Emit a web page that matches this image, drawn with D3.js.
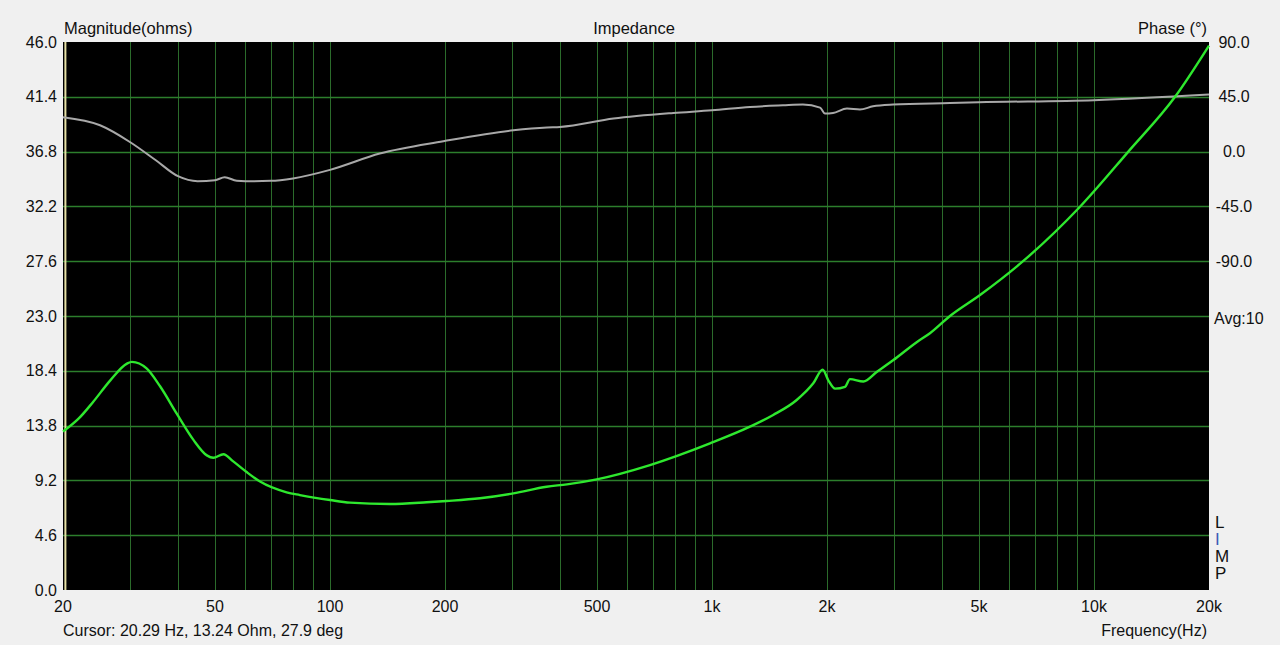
<!DOCTYPE html>
<html>
<head>
<meta charset="utf-8">
<script src="https://cdn.jsdelivr.net/npm/d3@7"></script>
<style>
  html, body { margin: 0; padding: 0; background: #f0f0f0; }
  svg { display: block; font-family: "Liberation Sans", Arial, sans-serif; }
</style>
</head>
<body>
<div id="chart"></div>
<script>
// Impedance sweep data
const magFreq = [20, 22, 24, 26.6, 29.4, 30.3, 33.1, 35.9, 39.7, 43.9, 47.6, 49.5, 52.6, 55.8, 60.5, 65.6, 77, 83.4, 100, 112.8, 143.6, 179, 202, 247, 302, 369, 417, 499, 688, 988, 1257, 1446, 1666, 1841, 1949, 2016, 2100, 2229, 2297, 2490, 2698, 2984, 3434, 3720, 4197, 5030, 6520, 9190, 12300, 16300, 20000];
const magOhm  = [13.3, 14.4, 15.8, 17.6, 19.0, 19.15, 18.6, 17.1, 14.8, 12.6, 11.3, 11.1, 11.4, 10.8, 9.9, 9.1, 8.2, 7.97, 7.55, 7.33, 7.22, 7.36, 7.47, 7.7, 8.11, 8.67, 8.87, 9.29, 10.49, 12.31, 13.71, 14.69, 15.95, 17.35, 18.5, 17.6, 16.9, 17.05, 17.7, 17.5, 18.3, 19.3, 20.8, 21.55, 23.0, 24.76, 27.6, 32.17, 36.8, 41.4, 45.7];

const phFreq = [20, 25, 30, 35, 40, 45, 50, 53, 57, 60, 70, 80, 100, 135, 198, 302, 370, 400, 552, 792, 1000, 1257, 1534, 1730, 1918, 1976, 2074, 2256, 2440, 2639, 2978, 4197, 5000, 10000, 20000];
const phDeg  = [28.2, 21.6, 7.7, -7.1, -20.2, -24.3, -23.5, -21, -24, -24.3, -24, -22, -15, -1.6, 8.5, 17.5, 19.8, 20.2, 27.1, 31.7, 33.9, 36.7, 38.0, 38.6, 36.1, 31.2, 31.7, 35.3, 34.5, 37.2, 38.6, 39.9, 40.5, 42.2, 46.8];

// Axis ticks
const magTicks = [0, 4.6, 9.2, 13.8, 18.4, 23.0, 27.6, 32.2, 36.8, 41.4, 46.0];
const phaseTicks = [90, 45, 0, -45, -90];
const freqLabels = [[20, "20"], [50, "50"], [100, "100"], [200, "200"], [500, "500"], [1000, "1k"], [2000, "2k"], [5000, "5k"], [10000, "10k"], [20000, "20k"]];
const freqGrid = [30, 40, 50, 60, 70, 80, 90, 100, 200, 300, 400, 500, 600, 700, 800, 900, 1000, 2000, 3000, 4000, 5000, 6000, 7000, 8000, 9000, 10000];

const W = 1280, H = 645;
const margin = { top: 42, right: 71, bottom: 55, left: 63 };
const width = W - margin.left - margin.right;
const height = H - margin.top - margin.bottom;

const svg = d3.select("#chart").append("svg")
    .attr("width", W)
    .attr("height", H);

svg.append("rect").attr("width", W).attr("height", H).attr("fill", "#f0f0f0");

const g = svg.append("g").attr("transform", `translate(${margin.left},${margin.top})`);

const x = d3.scaleLog().domain([20, 20000]).range([0, width]);
const yMag = d3.scaleLinear().domain([0, 46]).range([height, 0]);
const yPh = d3.scaleLinear().domain([-360, 90]).range([height, 0]);

g.append("rect").attr("width", width).attr("height", height).attr("fill", "#000");

// grid
g.append("g").selectAll("line")
    .data(freqGrid)
    .join("line")
    .attr("x1", d => Math.round(x(d)) + 0.5).attr("x2", d => Math.round(x(d)) + 0.5)
    .attr("y1", 0).attr("y2", height)
    .attr("stroke", "#2b6b2b").attr("stroke-width", 1);

g.append("g").selectAll("line")
    .data(magTicks.slice(1, -1))
    .join("line")
    .attr("x1", 0).attr("x2", width)
    .attr("y1", d => Math.round(yMag(d)) + 0.5).attr("y2", d => Math.round(yMag(d)) + 0.5)
    .attr("stroke", "#2c7e2c").attr("stroke-width", 1.6);

// cursor line at the left edge
g.append("line")
    .attr("x1", x(20.29)).attr("x2", x(20.29))
    .attr("y1", 0).attr("y2", height)
    .attr("stroke", "#e6e0a6").attr("stroke-width", 2);

// phase curve
const phaseData = phFreq.map((f, i) => [f, phDeg[i]]);
g.append("path")
    .datum(phaseData)
    .attr("fill", "none")
    .attr("stroke", "#a8a8a8")
    .attr("stroke-width", 2)
    .attr("d", d3.line().x(d => x(d[0])).y(d => yPh(d[1])).curve(d3.curveMonotoneX));

// magnitude curve
const magData = magFreq.map((f, i) => [f, magOhm[i]]);
g.append("path")
    .datum(magData)
    .attr("fill", "none")
    .attr("stroke", "#2ee82e")
    .attr("stroke-width", 2.4)
    .attr("d", d3.line().x(d => x(d[0])).y(d => yMag(d[1])).curve(d3.curveMonotoneX));

// left axis labels
g.append("g").selectAll("text")
    .data(magTicks)
    .join("text")
    .attr("x", -6)
    .attr("y", d => yMag(d))
    .attr("dy", "0.35em")
    .attr("text-anchor", "end")
    .attr("font-size", 16)
    .attr("fill", "#111")
    .text(d => d.toFixed(1));

// right axis labels
g.append("g").selectAll("text")
    .data(phaseTicks)
    .join("text")
    .attr("x", width + 25)
    .attr("y", d => yPh(d))
    .attr("dy", "0.35em")
    .attr("text-anchor", "middle")
    .attr("font-size", 16)
    .attr("fill", "#111")
    .text(d => d.toFixed(1));

g.append("text")
    .attr("x", width + 5)
    .attr("y", yMag(23.0))
    .attr("dy", "0.5em")
    .attr("font-size", 16)
    .attr("fill", "#111")
    .text("Avg:10");

// LIMP letters
const limp = [["L", "#111"], ["I", "#3b5bb5"], ["M", "#111"], ["P", "#111"]];
g.append("g").selectAll("text")
    .data(limp)
    .join("text")
    .attr("x", width + 6)
    .attr("y", (d, i) => 486 + i * 17)
    .attr("font-size", 17)
    .attr("fill", d => d[1])
    .text(d => d[0]);

// frequency labels
g.append("g").selectAll("text")
    .data(freqLabels)
    .join("text")
    .attr("x", d => x(d[0]))
    .attr("y", height + 22)
    .attr("text-anchor", "middle")
    .attr("font-size", 16)
    .attr("fill", "#111")
    .text(d => d[1]);

// titles
svg.append("text").attr("x", 64).attr("y", 34).attr("font-size", 16.5).attr("fill", "#111").text("Magnitude(ohms)");
svg.append("text").attr("x", 634).attr("y", 34).attr("font-size", 16.5).attr("text-anchor", "middle").attr("fill", "#111").text("Impedance");
svg.append("text").attr("x", 1207).attr("y", 34).attr("font-size", 16.5).attr("text-anchor", "end").attr("fill", "#111").text("Phase (°)");
svg.append("text").attr("x", 63).attr("y", 636).attr("font-size", 16).attr("fill", "#111").text("Cursor: 20.29 Hz, 13.24 Ohm, 27.9 deg");
svg.append("text").attr("x", 1207).attr("y", 636).attr("font-size", 16).attr("text-anchor", "end").attr("fill", "#111").text("Frequency(Hz)");
</script>
</body>
</html>
